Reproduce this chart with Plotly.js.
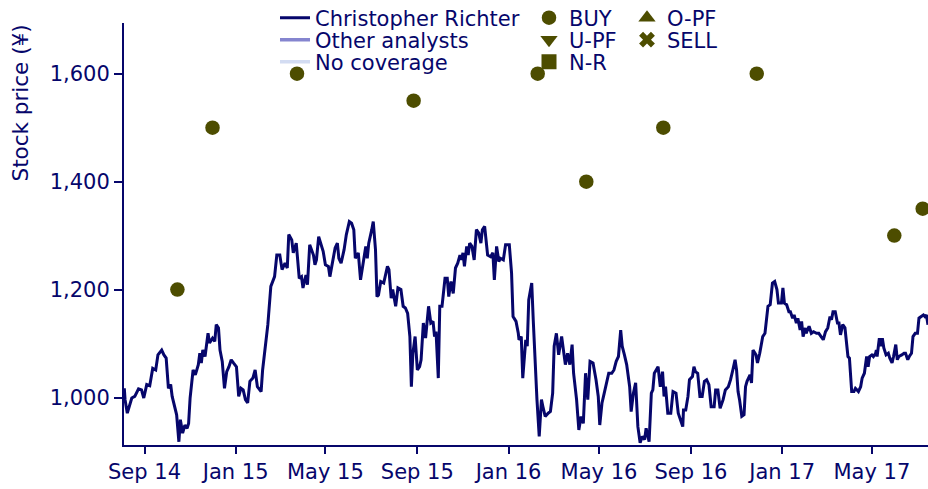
<!DOCTYPE html>
<html>
<head>
<meta charset="utf-8">
<script src="https://cdn.plot.ly/plotly-3.0.1.min.js"></script>
<style>
html,body{margin:0;padding:0;background:#fff;}
#chart{width:928px;height:489px;}
</style>
</head>
<body>
<div id="chart"></div>
<script>
// ---- data ----
const priceDates = [
"2014-08-05","2014-08-06","2014-08-09","2014-08-12","2014-08-15","2014-08-19","2014-08-24","2014-08-28","2014-08-31",
"2014-09-04","2014-09-08","2014-09-12","2014-09-16","2014-09-19","2014-09-24","2014-09-27","2014-09-30",
"2014-10-03","2014-10-06","2014-10-08","2014-10-11","2014-10-14","2014-10-17","2014-10-19","2014-10-22","2014-10-25","2014-10-28","2014-10-30",
"2014-11-01","2014-11-05","2014-11-08","2014-11-12","2014-11-14","2014-11-16","2014-11-18","2014-11-21","2014-11-25","2014-11-27",
"2014-12-01","2014-12-04","2014-12-06","2014-12-09","2014-12-11","2014-12-14","2014-12-17","2014-12-20","2014-12-23","2014-12-26","2014-12-29",
"2015-01-02","2015-01-05","2015-01-08","2015-01-11","2015-01-14","2015-01-17","2015-01-20","2015-01-24","2015-01-27","2015-01-30",
"2015-02-04","2015-02-06","2015-02-11","2015-02-13","2015-02-17","2015-02-22","2015-02-25",
"2015-03-01","2015-03-04","2015-03-08","2015-03-11","2015-03-13","2015-03-17","2015-03-19","2015-03-23","2015-03-27","2015-03-30",
"2015-04-01","2015-04-05","2015-04-07","2015-04-10","2015-04-15","2015-04-17","2015-04-19","2015-04-22","2015-04-25","2015-04-28",
"2015-05-01","2015-05-05","2015-05-07","2015-05-10","2015-05-14","2015-05-17","2015-05-19","2015-05-22","2015-05-26","2015-05-29",
"2015-06-02","2015-06-05","2015-06-08","2015-06-10","2015-06-14","2015-06-17","2015-06-20","2015-06-24","2015-06-26","2015-06-28",
"2015-07-02","2015-07-04","2015-07-07","2015-07-09","2015-07-11","2015-07-14","2015-07-18","2015-07-23","2015-07-25","2015-07-28","2015-07-30",
"2015-08-03","2015-08-06","2015-08-10","2015-08-13","2015-08-16","2015-08-19","2015-08-22","2015-08-24","2015-08-26","2015-08-29",
"2015-09-01","2015-09-04","2015-09-06","2015-09-09","2015-09-12","2015-09-16","2015-09-19","2015-09-22","2015-09-24","2015-09-26","2015-09-29",
"2015-10-01","2015-10-04","2015-10-08","2015-10-11","2015-10-13","2015-10-16","2015-10-19","2015-10-22","2015-10-25","2015-10-28","2015-10-30",
"2015-11-01","2015-11-03","2015-11-06","2015-11-08","2015-11-10","2015-11-13","2015-11-16","2015-11-19","2015-11-22","2015-11-25","2015-11-27","2015-11-30",
"2015-12-02","2015-12-04","2015-12-08","2015-12-11","2015-12-13","2015-12-16","2015-12-19","2015-12-21","2015-12-25","2015-12-28",
"2016-01-02","2016-01-05","2016-01-07","2016-01-11","2016-01-14","2016-01-15","2016-01-18","2016-01-20","2016-01-24","2016-01-26","2016-01-28",
"2016-02-01","2016-02-03","2016-02-05","2016-02-08","2016-02-11","2016-02-14","2016-02-16","2016-02-19","2016-02-23","2016-02-26","2016-02-29",
"2016-03-02","2016-03-05","2016-03-08","2016-03-12","2016-03-14","2016-03-17","2016-03-20","2016-03-23","2016-03-26","2016-03-28",
"2016-04-01","2016-04-04","2016-04-07","2016-04-10","2016-04-13","2016-04-16","2016-04-19","2016-04-23","2016-04-27","2016-04-30",
"2016-05-02","2016-05-05","2016-05-08","2016-05-11","2016-05-14","2016-05-18","2016-05-21","2016-05-24","2016-05-27","2016-05-30",
"2016-06-01","2016-06-04","2016-06-07","2016-06-11","2016-06-13","2016-06-16","2016-06-19","2016-06-22","2016-06-25","2016-06-28",
"2016-07-01","2016-07-03","2016-07-07","2016-07-10","2016-07-12","2016-07-14","2016-07-19","2016-07-22","2016-07-25","2016-07-27","2016-07-29",
"2016-08-01","2016-08-05","2016-08-08","2016-08-12","2016-08-15","2016-08-17","2016-08-21","2016-08-22","2016-08-25","2016-08-28","2016-08-30",
"2016-09-03","2016-09-05","2016-09-07","2016-09-10","2016-09-13","2016-09-16","2016-09-19","2016-09-22","2016-09-25","2016-09-28",
"2016-10-02","2016-10-04","2016-10-07","2016-10-10","2016-10-14","2016-10-17","2016-10-21","2016-10-24","2016-10-27","2016-10-30",
"2016-11-01","2016-11-03","2016-11-05","2016-11-08","2016-11-11","2016-11-13","2016-11-15","2016-11-19","2016-11-21","2016-11-23","2016-11-27","2016-11-29",
"2016-12-02","2016-12-06","2016-12-09","2016-12-11","2016-12-13","2016-12-16","2016-12-19","2016-12-22","2016-12-25","2016-12-27","2016-12-31",
"2017-01-02","2017-01-04","2017-01-07","2017-01-10","2017-01-12","2017-01-15","2017-01-17","2017-01-20","2017-01-22","2017-01-25","2017-01-27","2017-01-29",
"2017-02-01","2017-02-02","2017-02-06","2017-02-09","2017-02-12","2017-02-16","2017-02-19","2017-02-22","2017-02-25","2017-02-28",
"2017-03-03","2017-03-06","2017-03-08","2017-03-10","2017-03-13","2017-03-16","2017-03-18","2017-03-20","2017-03-23","2017-03-26","2017-03-28","2017-03-30",
"2017-04-01","2017-04-04","2017-04-07","2017-04-09","2017-04-13","2017-04-16","2017-04-18","2017-04-21","2017-04-24","2017-04-26","2017-04-28",
"2017-05-01","2017-05-03","2017-05-06","2017-05-07","2017-05-08","2017-05-11","2017-05-13","2017-05-15","2017-05-17","2017-05-20","2017-05-23","2017-05-25","2017-05-28","2017-05-30",
"2017-06-02","2017-06-04","2017-06-06","2017-06-10","2017-06-13","2017-06-15","2017-06-18","2017-06-20","2017-06-23","2017-06-25","2017-06-28",
"2017-07-01","2017-07-03","2017-07-06","2017-07-09","2017-07-11","2017-07-13","2017-07-15"
];
const prices = [
1017,996,971,983,999,1002,1016,1014,999,
1024,1022,1054,1051,1079,1088,1079,1073,
1017,1024,1002,983,968,918,959,934,949,943,952,
999,1051,1042,1061,1082,1064,1088,1076,1119,1101,
1110,1104,1135,1129,1088,1067,1017,1048,1057,1070,1064,
1057,1002,1017,1014,996,990,1030,1036,1051,1020,
1011,1051,1107,1135,1206,1224,1264,
1264,1237,1249,1240,1302,1292,1268,1286,1221,1224,
1203,1227,1209,1283,1264,1246,1255,1298,1286,1271,
1246,1243,1224,1249,1277,1286,1258,1249,1274,1302,
1326,1323,1311,1258,1268,1218,1243,1280,1258,1286,
1311,1326,1274,1187,1190,1215,1212,1243,1237,1184,1200,
1169,1203,1200,1169,1166,1156,1113,1020,1082,1113,
1051,1057,1070,1138,1110,1169,1138,1141,1113,1122,1036,
1169,1169,1221,1221,1187,1215,1193,1240,1249,1264,1255,
1268,1243,1280,1264,1286,1280,1255,1311,1305,1286,1311,1317,
1289,1264,1261,1268,1218,1280,1252,1258,1255,1283,
1283,1231,1150,1141,1119,1107,1113,1036,1107,1095,1181,
1212,1144,1082,996,928,996,983,965,971,974,1008,
1095,1119,1079,1113,1095,1061,1082,1061,1098,1045,
996,940,965,952,1045,996,1067,1064,1033,1002,
949,990,1008,1027,1045,1045,1051,1067,1076,1125,
1095,1079,1061,1020,974,1008,1027,946,916,928,
922,943,918,1008,1014,1045,1057,1020,1048,1002,1020,
971,971,1011,1008,971,962,946,977,977,1002,1033,
1039,1057,1048,1045,1002,1002,1030,1033,1024,983,
983,1014,1014,980,996,1014,1020,1033,1051,1070,
1051,1011,996,965,968,1020,1030,1042,1027,1088,1079,1064,
1082,1113,1119,1144,1169,1172,1212,1215,1200,1175,1175,
1203,1175,1172,1159,1159,1147,1153,1138,1147,1125,1141,1113,
1129,1119,1132,1119,1122,1119,1119,1113,1107,1122,
1129,1150,1144,1159,1159,1138,1138,1116,1135,1129,1095,1076,
1073,1011,1011,1017,1011,1020,1036,1045,1076,1057,1076,
1079,1076,1082,1088,1076,1110,1095,1110,1092,1079,1082,1073,1064,1076,
1098,1070,1076,1079,1082,1082,1070,1076,1082,1113,1119,
1119,1147,1150,1153,1150,1153,1135
];
const buyDates = ["2014-10-15","2014-12-01","2015-03-24","2015-08-27","2016-02-09","2016-04-14","2016-07-26","2016-11-28","2017-05-31","2017-07-08"];
const buyTargets = [1200,1500,1600,1550,1600,1400,1500,1600,1300,1350];
const yTicks = [1000,1200,1400,1600];
const xRange = ["2014-08-04 14:00","2017-07-15 02:00"];
const yRange = [912,1694];
const analystName = "Christopher Richter";
const legendLines = ["Other analysts","No coverage"];
const legendRatings = ["U-PF","N-R","O-PF","SELL"];

// ---- styles ----
const NAVY = "#06066b";
const OLIVE = "#4d4d00";
const FONT = "DejaVu Sans";
const FS = 21;

const W = 928, H = 489;
const ML = 124, MR = 0, MT = 23, MB = 44;
const PW = W - ML - MR, PH = H - MT - MB;
const px2x = px => (px - ML) / PW;
const py2y = py => (H - MB - py) / PH;

function legendBox(px, py) {
  return {x: px2x(px), y: py2y(py), xref: "paper", yref: "paper",
          xanchor: "left", yanchor: "middle", bgcolor: "rgba(0,0,0,0)",
          borderwidth: 0, font: {family: FONT, size: FS, color: NAVY},
          itemclick: false, itemdoubleclick: false};
}

const traces = [
  {type: "scatter", mode: "lines", x: priceDates, y: prices, name: analystName,
   line: {color: NAVY, width: 3}, legend: "legend", hoverinfo: "skip"},
  {type: "scatter", mode: "lines", x: [null], y: [null], name: legendLines[0],
   line: {color: "#8585cf", width: 3.5}, legend: "legend2"},
  {type: "scatter", mode: "lines", x: [null], y: [null], name: legendLines[1],
   line: {color: "#d3dcf2", width: 3.5}, legend: "legend3"},
  {type: "scatter", mode: "markers", x: buyDates, y: buyTargets, name: "BUY",
   marker: {symbol: "circle", size: 14.5, color: OLIVE}, legend: "legend4", hoverinfo: "skip", cliponaxis: false},
  {type: "scatter", mode: "markers", x: [null], y: [null], name: legendRatings[0],
   marker: {symbol: "triangle-down", size: 15, color: OLIVE}, legend: "legend5"},
  {type: "scatter", mode: "markers", x: [null], y: [null], name: legendRatings[1],
   marker: {symbol: "square", size: 15, color: OLIVE}, legend: "legend6"},
  {type: "scatter", mode: "markers", x: [null], y: [null], name: legendRatings[2],
   marker: {symbol: "triangle-up", size: 15, color: OLIVE}, legend: "legend7"},
  {type: "scatter", mode: "markers", x: [null], y: [null], name: legendRatings[3],
   marker: {symbol: "x", size: 14, color: OLIVE}, legend: "legend8"}
];

const axisFont = {family: FONT, size: FS, color: NAVY};

const layout = {
  width: W, height: H,
  margin: {l: ML, r: MR, t: MT, b: MB, pad: 0, autoexpand: false},
  paper_bgcolor: "#ffffff", plot_bgcolor: "#ffffff",
  font: {family: FONT, size: FS, color: NAVY},
  showlegend: true,
  xaxis: {type: "date", range: xRange, tick0: "2014-09-01", dtick: "M4", tickformat: "%b %y",
          ticks: "outside", ticklen: 7, tickwidth: 2, tickcolor: NAVY,
          showline: true, linewidth: 2, linecolor: NAVY, showgrid: false, zeroline: false,
          tickfont: axisFont, fixedrange: true, automargin: false},
  yaxis: {range: yRange, tickvals: yTicks, tickformat: ",d",
          ticks: "outside", ticklen: 8, tickwidth: 2, tickcolor: NAVY,
          showline: true, linewidth: 2, linecolor: NAVY, showgrid: false, zeroline: false,
          tickfont: axisFont, fixedrange: true, automargin: false},
  legend: legendBox(275, 18),
  legend2: legendBox(275, 40),
  legend3: legendBox(275, 62),
  legend4: legendBox(529, 18),
  legend5: legendBox(529, 40),
  legend6: legendBox(529, 62),
  legend7: legendBox(627, 18),
  legend8: legendBox(627, 40),
  annotations: [{
    text: "Stock price (¥)", textangle: -90, showarrow: false,
    xref: "paper", yref: "paper",
    x: px2x(20), y: py2y(103.5),
    xanchor: "center", yanchor: "middle",
    font: {family: FONT, size: 21.5, color: NAVY}
  }]
};

Plotly.newPlot("chart", traces, layout, {displayModeBar: false, staticPlot: true});
</script>
</body>
</html>
